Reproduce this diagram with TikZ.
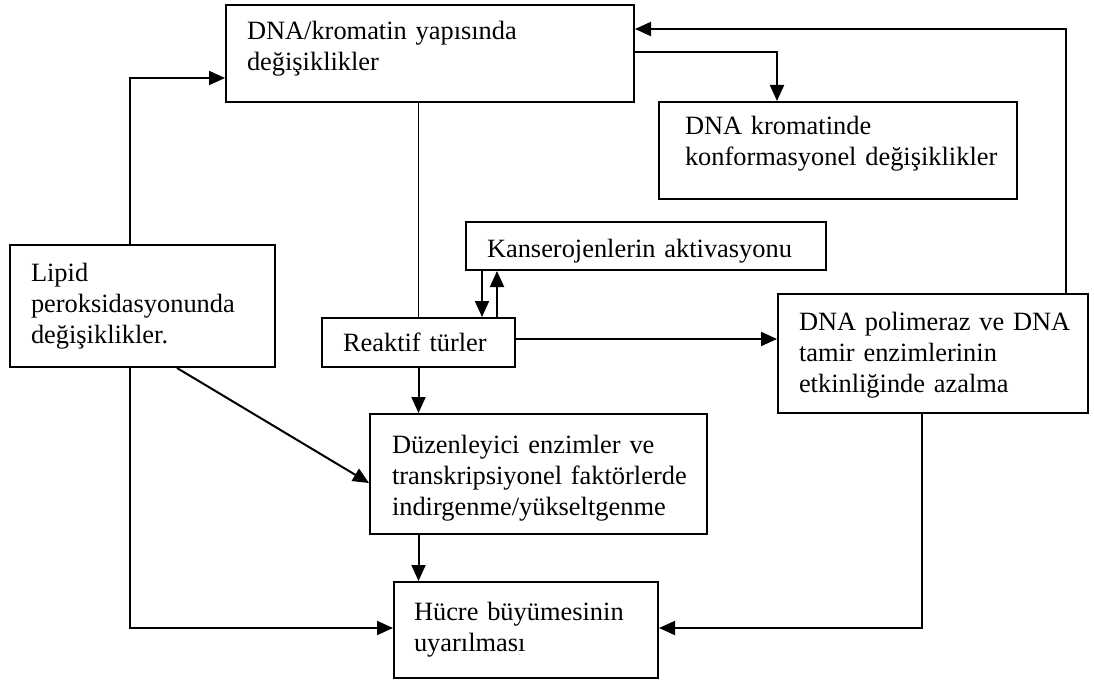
\documentclass[tikz,border=0pt]{standalone}
\usepackage{fontspec}
\setmainfont{Liberation Serif}
\usetikzlibrary{arrows.meta,calc}
\begin{document}
\begin{tikzpicture}[x=1pt,y=-1pt,
  box/.style={draw, line width=2pt, anchor=north west, inner ysep=0pt, align=left,
              font=\fontsize{26.4}{31}\selectfont},
  arr/.style={line width=2pt, -{Triangle[length=16pt,width=14pt]}},
  plainline/.style={line width=1.3pt}]
\useasboundingbox (0,0) rectangle (1094,682);

\node[box, inner xsep=21pt, text width=366pt, text height=35pt, text depth=62pt] (b1) at (225,4)
  {\mbox{DNA/kromatin yapısında}\\\mbox{değişiklikler}};
\node[box, inner xsep=26pt, text width=306pt, text height=33pt, text depth=64pt] (b2) at (658,101)
  {\mbox{DNA kromatinde}\\\mbox{konformasyonel değişiklikler}};
\node[box, inner xsep=21pt, text width=318pt, text height=35pt, text depth=13pt] (b3) at (465,221)
  {\mbox{Kanserojenlerin aktivasyonu}};
\node[box, inner xsep=21pt, text width=223pt, text height=36pt, text depth=86pt] (lip) at (9,244)
  {\mbox{Lipid}\\\mbox{peroksidasyonunda}\\\mbox{değişiklikler.}};
\node[box, inner xsep=21pt, text width=151pt, text height=33pt, text depth=16pt] (rt) at (321,317)
  {\mbox{Reaktif türler}};
\node[box, inner xsep=21pt, text width=268pt, text height=36pt, text depth=83pt] (b6) at (777,293)
  {\mbox{DNA polimeraz ve DNA}\\\mbox{tamir enzimlerinin}\\\mbox{etkinliğinde azalma}};
\node[box, inner xsep=22pt, text width=293pt, text height=39pt, text depth=81pt] (b7) at (369,413)
  {\mbox{Düzenleyici enzimler ve}\\\mbox{transkripsiyonel faktörlerde}\\\mbox{indirgenme/yükseltgenme}};
\node[box, inner xsep=20pt, text width=224pt, text height=38pt, text depth=58pt] (b8) at (393,581)
  {\mbox{Hücre büyümesinin}\\\mbox{uyarılması}};

\coordinate (xA) at (130,0);
\coordinate (xD) at (177,0);
\coordinate (xK1) at (482,0);
\coordinate (xK2) at (497,0);
\coordinate (xR) at (777,0);
\coordinate (xP) at (922,0);
\coordinate (xQ) at (1066,0);
\coordinate (yT) at (0,29);
\coordinate (yC) at (0,52);
\coordinate (yL) at (0,78);
\coordinate (yR) at (0,339);
\coordinate (yD) at (0,483);
\coordinate (yH) at (0,628);

\draw[arr] (lip.north -| xA) |- (b1.west |- yL);
\draw[plainline] (b1.south -| rt.north) -- (rt.north);
\draw[arr] (b3.south -| xK1) -- (rt.north -| xK1);
\draw[arr] (rt.north -| xK2) -- (b3.south -| xK2);
\draw[arr] (rt.east |- yR) -- (b6.west |- yR);
\draw[arr] (rt.south) -- (b7.north -| rt.south);
\draw[arr] (lip.south -| xD) -- (b7.west |- yD);
\draw[arr] (lip.south -| xA) |- (b8.west |- yH);
\draw[arr] (b7.south -| rt.south) -- (b8.north -| rt.south);
\draw[arr] (b6.south -| xP) |- (b8.east |- yH);
\draw[arr] (b6.north -| xQ) |- (b1.east |- yT);
\draw[arr] (b1.east |- yC) -| (b2.north -| xR);
\end{tikzpicture}
\end{document}
